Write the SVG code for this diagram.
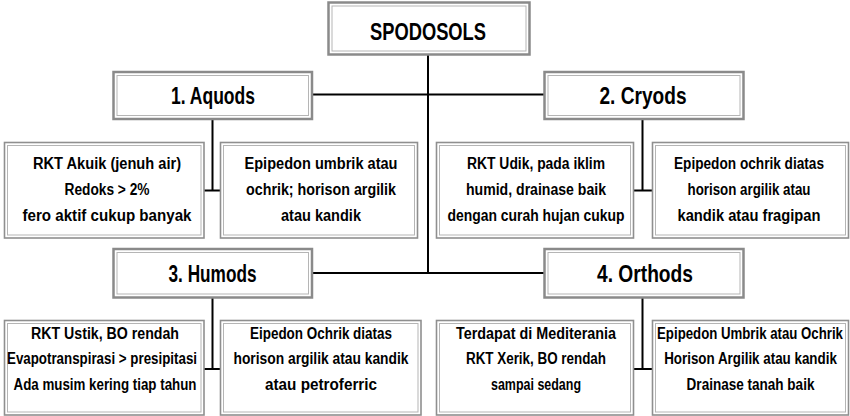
<svg xmlns="http://www.w3.org/2000/svg" width="850" height="416" viewBox="0 0 850 416">
<style>
  .bg { fill: #ffffff; }
  .oh { fill: #ffffff; stroke: #8a8a8a; stroke-width: 2.5; }
  .oc { fill: #ffffff; stroke: #8f8f8f; stroke-width: 1.6; }
  .in { fill: none; stroke: #b5b5b5; stroke-width: 1; }
  .hd { font-family: "Liberation Sans", Arial, sans-serif; font-weight: bold; font-size: 24px; fill: #000; text-anchor: middle; }
  .tx { font-family: "Liberation Sans", Arial, sans-serif; font-weight: bold; font-size: 16px; fill: #000; text-anchor: middle; }
  .ln { stroke: #000; stroke-width: 2; fill: none; }
</style>
<rect class="bg" x="0" y="0" width="850" height="416"/>
<g id="connectors">
  <path class="ln" d="M428 55 V273"/>
  <path class="ln" d="M312 94.5 H544"/>
  <path class="ln" d="M312 273 H544"/>
  <path class="ln" d="M212.5 119 V190.5 M204 190.5 H220"/>
  <path class="ln" d="M642.5 119 V190.5 M633 190.5 H652"/>
  <path class="ln" d="M212.5 298 V369 M204 369 H220"/>
  <path class="ln" d="M642.5 298 V369 M633 369 H652"/>
</g>
<g id="spodosols">
  <rect class="oh" x="328.5" y="2.5" width="201" height="52"/>
  <rect class="in" x="332" y="6" width="194" height="45"/>
  <text class="hd" x="428" y="40" textLength="116" lengthAdjust="spacingAndGlyphs">SPODOSOLS</text>
</g>
<g id="aquods">
  <rect class="oh" x="113.5" y="72" width="198.5" height="47"/>
  <rect class="in" x="117" y="75.5" width="191.5" height="40"/>
  <text class="hd" x="213" y="104" textLength="84" lengthAdjust="spacingAndGlyphs">1. Aquods</text>
</g>
<g id="cryods">
  <rect class="oh" x="544.5" y="72" width="199" height="47"/>
  <rect class="in" x="548" y="75.5" width="192" height="40"/>
  <text class="hd" x="643" y="104" textLength="87" lengthAdjust="spacingAndGlyphs">2. Cryods</text>
</g>
<g id="humods">
  <rect class="oh" x="113.5" y="249" width="198.5" height="48.5"/>
  <rect class="in" x="117" y="252.5" width="191.5" height="41.5"/>
  <text class="hd" x="212.5" y="282" textLength="88" lengthAdjust="spacingAndGlyphs">3. Humods</text>
</g>
<g id="orthods">
  <rect class="oh" x="544.5" y="249" width="199" height="48.5"/>
  <rect class="in" x="548" y="252.5" width="192" height="41.5"/>
  <text class="hd" x="645" y="282" textLength="96" lengthAdjust="spacingAndGlyphs">4. Orthods</text>
</g>
<g id="aquods-rkt">
  <rect class="oc" x="4.5" y="142.5" width="199.5" height="95.5"/>
  <rect class="in" x="7.5" y="145.5" width="193.5" height="89.5"/>
  <text class="tx" x="107" y="169" textLength="148" lengthAdjust="spacingAndGlyphs">RKT Akuik (jenuh air)</text>
  <text class="tx" x="107" y="195" textLength="85" lengthAdjust="spacingAndGlyphs">Redoks &gt; 2%</text>
  <text class="tx" x="107" y="220.5" textLength="169" lengthAdjust="spacingAndGlyphs">fero aktif cukup banyak</text>
</g>
<g id="aquods-epipedon">
  <rect class="oc" x="220.5" y="142.5" width="197" height="95.5"/>
  <rect class="in" x="223.5" y="145.5" width="191" height="89.5"/>
  <text class="tx" x="321" y="169" textLength="153" lengthAdjust="spacingAndGlyphs">Epipedon umbrik atau</text>
  <text class="tx" x="321" y="195" textLength="150" lengthAdjust="spacingAndGlyphs">ochrik; horison argilik</text>
  <text class="tx" x="321" y="220.5" textLength="80" lengthAdjust="spacingAndGlyphs">atau kandik</text>
</g>
<g id="cryods-rkt">
  <rect class="oc" x="436.5" y="142.5" width="197" height="95.5"/>
  <rect class="in" x="439.5" y="145.5" width="191" height="89.5"/>
  <text class="tx" x="536" y="169" textLength="138" lengthAdjust="spacingAndGlyphs">RKT Udik, pada iklim</text>
  <text class="tx" x="536" y="195" textLength="140" lengthAdjust="spacingAndGlyphs">humid, drainase baik</text>
  <text class="tx" x="536" y="220.5" textLength="177" lengthAdjust="spacingAndGlyphs">dengan curah hujan cukup</text>
</g>
<g id="cryods-epipedon">
  <rect class="oc" x="652.5" y="142.5" width="196" height="95.5"/>
  <rect class="in" x="655.5" y="145.5" width="190" height="89.5"/>
  <text class="tx" x="749" y="169" textLength="150" lengthAdjust="spacingAndGlyphs">Epipedon ochrik diatas</text>
  <text class="tx" x="749" y="195" textLength="123" lengthAdjust="spacingAndGlyphs">horison argilik atau</text>
  <text class="tx" x="749" y="220.5" textLength="143" lengthAdjust="spacingAndGlyphs">kandik atau fragipan</text>
</g>
<g id="humods-rkt">
  <rect class="oc" x="4.5" y="320.5" width="199.5" height="94.5"/>
  <rect class="in" x="7.5" y="323.5" width="193.5" height="88.5"/>
  <text class="tx" x="105" y="338.5" textLength="148" lengthAdjust="spacingAndGlyphs">RKT Ustik, BO rendah</text>
  <text class="tx" x="102" y="364" textLength="190" lengthAdjust="spacingAndGlyphs">Evapotranspirasi &gt; presipitasi</text>
  <text class="tx" x="105" y="389.5" textLength="183" lengthAdjust="spacingAndGlyphs">Ada musim kering tiap tahun</text>
</g>
<g id="humods-epipedon">
  <rect class="oc" x="220.5" y="320.5" width="200.5" height="94.5"/>
  <rect class="in" x="223.5" y="323.5" width="194.5" height="88.5"/>
  <text class="tx" x="321" y="338.5" textLength="142" lengthAdjust="spacingAndGlyphs">Eipedon Ochrik diatas</text>
  <text class="tx" x="321" y="364" textLength="175" lengthAdjust="spacingAndGlyphs">horison argilik atau kandik</text>
  <text class="tx" x="321" y="389.5" textLength="112" lengthAdjust="spacingAndGlyphs">atau petroferric</text>
</g>
<g id="orthods-rkt">
  <rect class="oc" x="436.5" y="320.5" width="197" height="94.5"/>
  <rect class="in" x="439.5" y="323.5" width="191" height="88.5"/>
  <text class="tx" x="536" y="338.5" textLength="160" lengthAdjust="spacingAndGlyphs">Terdapat di Mediterania</text>
  <text class="tx" x="536" y="364" textLength="140" lengthAdjust="spacingAndGlyphs">RKT Xerik, BO rendah</text>
  <text class="tx" x="536" y="389.5" textLength="90" lengthAdjust="spacingAndGlyphs">sampai sedang</text>
</g>
<g id="orthods-epipedon">
  <rect class="oc" x="652.5" y="320.5" width="196" height="94.5"/>
  <rect class="in" x="655.5" y="323.5" width="190" height="88.5"/>
  <text class="tx" transform="translate(750 338.5) scale(0.83 1)" x="0" y="0" textLength="224" lengthAdjust="spacingAndGlyphs">Epipedon Umbrik atau Ochrik</text>
  <text class="tx" transform="translate(750.5 364) scale(0.83 1)" x="0" y="0" textLength="208" lengthAdjust="spacingAndGlyphs">Horison Argilik atau kandik</text>
  <text class="tx" transform="translate(750.5 389.5) scale(0.83 1)" x="0" y="0" textLength="154" lengthAdjust="spacingAndGlyphs">Drainase tanah baik</text>
</g>
</svg>
